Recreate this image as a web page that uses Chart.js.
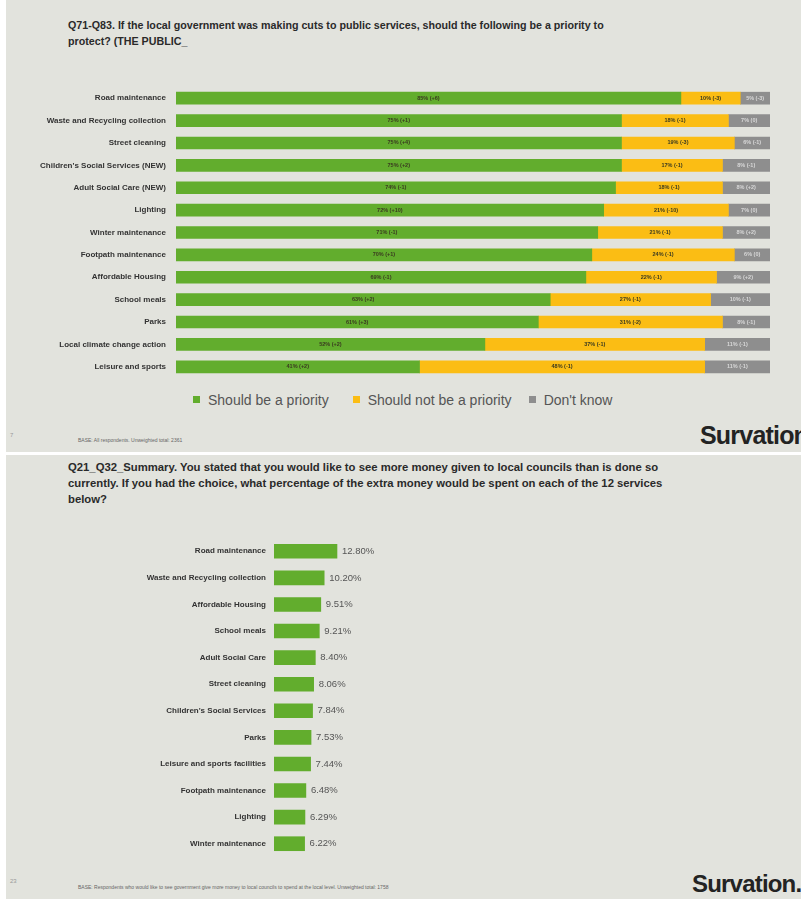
<!DOCTYPE html>
<html>
<head>
<meta charset="utf-8">
<script src="https://cdn.jsdelivr.net/npm/chart.js@4"></script>
<style>
  body { margin: 0; width: 801px; height: 899px; background: #ffffff; position: relative; overflow: hidden;
         font-family: "Liberation Sans", Arial, sans-serif; }
  .slide { position: absolute; left: 6px; width: 795px; background: #e2e3dd; overflow: hidden; }
  .title { position: absolute; left: 62px; font-weight: bold; color: #2a2a2a; line-height: 16px; }
  .legend { position: absolute; top: 392px; left: 187px; font-size: 14px; color: #555; display: flex; }
  .legend span i { display: inline-block; width: 7px; height: 7px; margin-right: 8px; vertical-align: 2px; }
  .base { position: absolute; font-size: 5px; color: #666; }
  .pg { position: absolute; left: 4px; font-size: 6px; color: #999; }
  .logo { position: absolute; font-weight: bold; color: #232323; letter-spacing: -0.8px; }
  canvas { position: absolute; }
</style>
</head>
<body>

<div class="slide" style="top:0; height:452px;">
  <div class="title" style="top:17px; width:550px; font-size:10.7px;">Q71-Q83. If the local government was making cuts to public services, should the following be a priority to protect? (THE PUBLIC_</div>
  <canvas id="priorityChart" width="740" height="291" style="left:34px; top:87px;"></canvas>
  <div class="legend">
    <span style="margin-right:24px"><i style="background:#62ad2d"></i>Should be a priority</span>
    <span style="margin-right:17px"><i style="background:#fbbd14"></i>Should not be a priority</span>
    <span><i style="background:#8e8e8e"></i>Don't know</span>
  </div>
  <div class="pg" style="top:432px;">7</div>
  <div class="base" style="left:72px; top:437px;">BASE: All respondents. Unweighted total: 2361</div>
  <div class="logo" style="left:694px; top:421px; font-size:25px;">Survation</div>
</div>

<div class="slide" style="top:455px; height:444px;">
  <div class="title" style="top:4px; width:615px; font-size:11.3px;">Q21_Q32_Summary. You stated that you would like to see more money given to local councils than is done so currently. If you had the choice, what percentage of the extra money would be spent on each of the 12 services below?</div>
  <canvas id="spendChart" width="446" height="319" style="left:128px; top:83px;"></canvas>
  <div class="pg" style="top:423px;">23</div>
  <div class="base" style="left:72px; top:429px;">BASE: Respondents who would like to see government give more money to local councils to spend at the local level. Unweighted total: 1758</div>
  <div class="logo" style="left:686px; top:415px; font-size:24px;">Survation.</div>
</div>

<script>
// Top chart: priority to protect (%)
const services = ['Road maintenance', 'Waste and Recycling collection', 'Street cleaning',
    "Children's Social Services (NEW)", 'Adult Social Care (NEW)', 'Lighting', 'Winter maintenance',
    'Footpath maintenance', 'Affordable Housing', 'School meals', 'Parks',
    'Local climate change action', 'Leisure and sports'];
const shouldBe = [85, 75, 75, 75, 74, 72, 71, 70, 69, 63, 61, 52, 41];
const shouldNot = [10, 18, 19, 17, 18, 21, 21, 24, 22, 27, 31, 37, 48];
const dontKnow = [5, 7, 6, 8, 8, 7, 8, 6, 9, 10, 8, 11, 11];
// change vs previous wave (hard to read in the source, estimated)
const shouldBeChange = ['+6', '+1', '+4', '+2', '-1', '+10', '-1', '+1', '-1', '+2', '+3', '+2', '+2'];
const shouldNotChange = ['-3', '-1', '-3', '-1', '-1', '-10', '-1', '-1', '-1', '-1', '-2', '-1', '-1'];
const dontKnowChange = ['-3', '0', '-1', '-1', '+2', '0', '+2', '0', '+2', '-1', '-1', '-1', '-1'];

// Bottom chart: share of extra money (%)
const spendServices = ['Road maintenance', 'Waste and Recycling collection', 'Affordable Housing',
    'School meals', 'Adult Social Care', 'Street cleaning', "Children's Social Services", 'Parks',
    'Leisure and sports facilities', 'Footpath maintenance', 'Lighting', 'Winter maintenance'];
const spendShare = [12.80, 10.20, 9.51, 9.21, 8.40, 8.06, 7.84, 7.53, 7.44, 6.48, 6.29, 6.22];

const GREEN = '#62ad2d';
const YELLOW = '#fbbd14';
const GREY = '#8e8e8e';

// writes "85% (+6)" in the middle of each stacked segment
const segmentLabels = {
    id: 'segmentLabels',
    afterDatasetsDraw(chart) {
        const ctx = chart.ctx;
        const changes = [shouldBeChange, shouldNotChange, dontKnowChange];
        ctx.save();
        ctx.font = 'bold 5.5px "Liberation Sans", Arial, sans-serif';
        ctx.textAlign = 'center';
        ctx.textBaseline = 'middle';
        chart.data.datasets.forEach((ds, di) => {
            chart.getDatasetMeta(di).data.forEach((bar, i) => {
                ctx.fillStyle = di === 2 ? '#d8d8d8' : '#3a3a20';
                ctx.fillText(ds.data[i] + '% (' + changes[di][i] + ')', (bar.x + bar.base) / 2, bar.y);
            });
        });
        ctx.restore();
    }
};

// writes the value just after each bar
const endLabels = {
    id: 'endLabels',
    afterDatasetsDraw(chart) {
        const ctx = chart.ctx;
        ctx.save();
        ctx.font = '9.5px "Liberation Sans", Arial, sans-serif';
        ctx.fillStyle = '#555';
        ctx.textBaseline = 'middle';
        chart.getDatasetMeta(0).data.forEach((bar, i) => {
            ctx.fillText(spendShare[i].toFixed(2) + '%', bar.x + 5, bar.y);
        });
        ctx.restore();
    }
};

function tickFont(size) {
    return { family: '"Liberation Sans", Arial, sans-serif', size: size, weight: 'bold' };
}

// fixed label column, and no extra space above/below the bars
function fitAxis(width) {
    return scale => {
        scale.width = width;
        scale.paddingTop = 0;
        scale.paddingBottom = 0;
    };
}

new Chart(document.getElementById('priorityChart'), {
    type: 'bar',
    data: {
        labels: services,
        datasets: [
            { label: 'Should be a priority', data: shouldBe, backgroundColor: GREEN, barThickness: 12 },
            { label: 'Should not be a priority', data: shouldNot, backgroundColor: YELLOW, barThickness: 12 },
            { label: "Don't know", data: dontKnow, backgroundColor: GREY, barThickness: 12 }
        ]
    },
    options: {
        indexAxis: 'y',
        responsive: false,
        animation: false,
        layout: { padding: { right: 10 } },
        scales: {
            x: { stacked: true, min: 0, max: 100, display: false },
            y: {
                stacked: true,
                grid: { display: false, drawTicks: false },
                border: { display: false },
                ticks: { font: tickFont(8), color: '#333', padding: 10 },
                afterFit: fitAxis(136)
            }
        },
        plugins: { legend: { display: false }, tooltip: { enabled: false } }
    },
    plugins: [segmentLabels]
});

new Chart(document.getElementById('spendChart'), {
    type: 'bar',
    data: {
        labels: spendServices,
        datasets: [{ label: 'Share of extra money', data: spendShare, backgroundColor: GREEN, barThickness: 14 }]
    },
    options: {
        indexAxis: 'y',
        responsive: false,
        animation: false,
        layout: { padding: { right: 60 } },
        scales: {
            x: { min: 0, max: 50, display: false },
            y: {
                grid: { display: false, drawTicks: false },
                border: { display: false },
                ticks: { font: tickFont(8), color: '#333', padding: 8 },
                afterFit: fitAxis(140)
            }
        },
        plugins: { legend: { display: false }, tooltip: { enabled: false } }
    },
    plugins: [endLabels]
});
</script>
</body>
</html>
